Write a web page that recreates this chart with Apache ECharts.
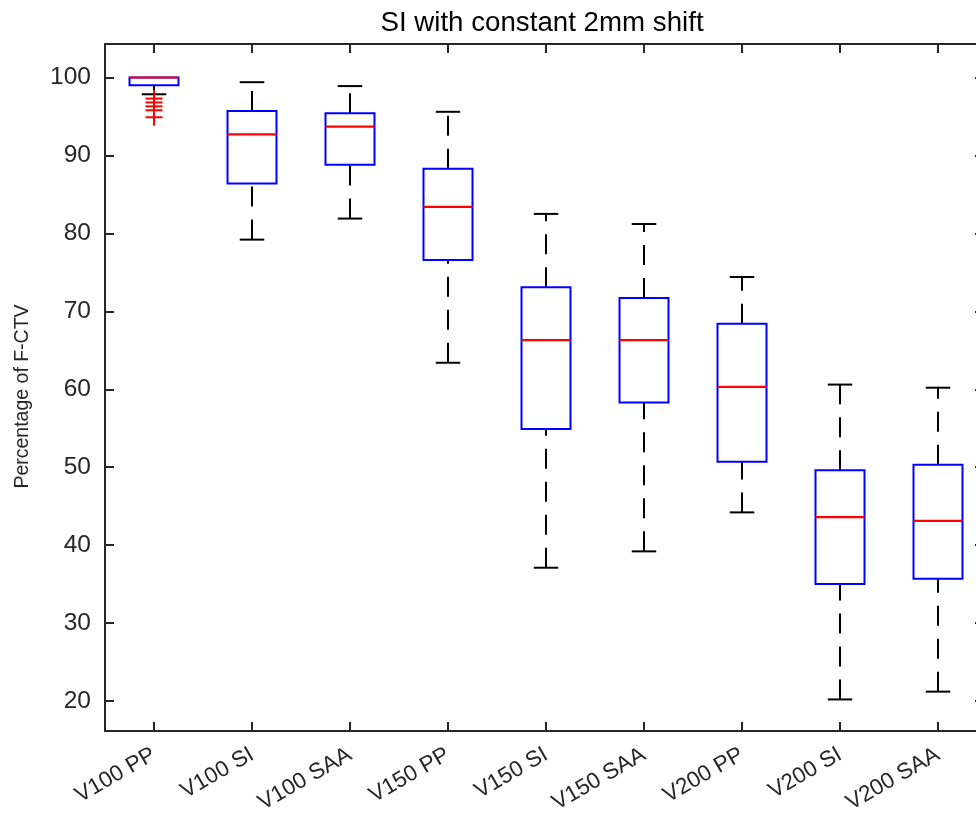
<!DOCTYPE html>
<html><head><meta charset="utf-8">
<script src="https://cdn.jsdelivr.net/npm/echarts@6/dist/echarts.min.js"></script>
<style>html,body{margin:0;padding:0;background:#fff}#c{width:976px;height:825px}</style>
</head><body><div id="c"></div>
<script>
const categories = ['V100 PP','V100 SI','V100 SAA','V150 PP','V150 SI','V150 SAA','V200 PP','V200 SI','V200 SAA'];
const lowerWhisker = [97.85, 79.2, 81.9, 63.4, 37.1, 39.2, 44.2, 20.2, 21.2];
const q1           = [99.0, 86.4, 88.8, 76.6, 54.9, 58.3, 50.7, 35.0, 35.7];
const median       = [100.0, 92.7, 93.7, 83.4, 66.3, 66.3, 60.3, 43.6, 43.1];
const q3           = [100.0, 95.7, 95.4, 88.3, 73.1, 71.7, 68.4, 49.6, 50.3];
const upperWhisker = [100.0, 99.4, 98.9, 95.6, 82.5, 81.2, 74.4, 60.6, 60.2];
const outlierCategory = [0, 0, 0, 0, 0];
const outlierValues   = [97.3, 96.8, 96.3, 95.8, 94.9];
const yTicks = [20, 30, 40, 50, 60, 70, 80, 90, 100];
const titleText = 'SI with constant 2mm shift';
const yName = 'Percentage of F-CTV';

const boxData = categories.map((c, i) => [i, lowerWhisker[i], q1[i], median[i], q3[i], upperWhisker[i]]);
const outlierData = outlierValues.map((v, i) => [outlierCategory[i], v]);

const FONT = 'Liberation Sans, Arial, sans-serif';
const AX = '#262626';

function renderBox(params, api) {
  const i = api.value(0);
  const bw = api.size([1, 0])[0];
  const half = bw * 0.25, capHalf = bw * 0.125;
  const x = api.coord([i, 0])[0];
  const yLW = api.coord([i, api.value(1)])[1];
  const yQ1 = api.coord([i, api.value(2)])[1];
  const yMed = api.coord([i, api.value(3)])[1];
  const yQ3 = api.coord([i, api.value(4)])[1];
  const yUW = api.coord([i, api.value(5)])[1];
  const wStyle = { stroke: '#000', lineWidth: 2, lineDash: [20, 13], fill: null };
  const cStyle = { stroke: '#000', lineWidth: 2, fill: null };
  const children = [];
  if (Math.abs(yLW - yQ1) > 0.5) {
    children.push({ type: 'line', shape: { x1: x, y1: yLW, x2: x, y2: yQ1 }, style: wStyle });
    children.push({ type: 'line', shape: { x1: x - capHalf, y1: yLW, x2: x + capHalf, y2: yLW }, style: cStyle });
  }
  if (Math.abs(yUW - yQ3) > 0.5) {
    children.push({ type: 'line', shape: { x1: x, y1: yQ3, x2: x, y2: yUW }, style: wStyle });
    children.push({ type: 'line', shape: { x1: x - capHalf, y1: yUW, x2: x + capHalf, y2: yUW }, style: cStyle });
  }
  children.push({ type: 'rect', shape: { x: x - half, y: yQ3, width: 2 * half, height: yQ1 - yQ3 },
    style: { stroke: '#0000ff', lineWidth: 2, fill: null } });
  children.push({ type: 'line', shape: { x1: x - half, y1: yMed, x2: x + half, y2: yMed },
    style: { stroke: '#ff0000', lineWidth: 2.2 } });
  return { type: 'group', children };
}

function renderOutlier(params, api) {
  const p = api.coord([api.value(0), api.value(1)]);
  const s = 8.5;
  return { type: 'group', children: [
    { type: 'line', shape: { x1: p[0] - s, y1: p[1], x2: p[0] + s, y2: p[1] }, style: { stroke: '#ff0000', lineWidth: 2 } },
    { type: 'line', shape: { x1: p[0], y1: p[1] - s, x2: p[0], y2: p[1] + s }, style: { stroke: '#ff0000', lineWidth: 2 } }
  ]};
}

const xBase = {
  type: 'category', data: categories, boundaryGap: true,
  axisLine: { show: true, lineStyle: { color: AX, width: 2 } },
  axisTick: { show: true, inside: true, alignWithLabel: true, length: 9, lineStyle: { color: AX, width: 2 } },
  splitLine: { show: false }
};
const yBase = {
  type: 'value', min: 16.15, max: 104.3, minInterval: 10, maxInterval: 10, splitNumber: 9,
  axisLine: { show: true, lineStyle: { color: AX, width: 2 } },
  axisTick: { show: true, inside: true, length: 9, lineStyle: { color: AX, width: 2 } },
  splitLine: { show: false }
};

const option = {
  animation: false,
  backgroundColor: '#ffffff',
  title: { text: titleText, left: 537, top: 4, textAlign: 'center',
    textStyle: { fontFamily: FONT, fontSize: 27.7, fontWeight: 'normal', color: '#000' } },
  grid: { left: 105, top: 44, width: 882, height: 687, containLabel: false, outerBoundsMode: 'none' },
  xAxis: [
    Object.assign({}, xBase, { position: 'bottom',
      axisLabel: { rotate: 30, color: AX, fontSize: 22.5, fontFamily: FONT, margin: 22 } }),
    Object.assign({}, xBase, { position: 'top', axisLabel: { show: false } })
  ],
  yAxis: [
    Object.assign({}, yBase, { position: 'left', name: yName, nameLocation: 'middle', nameGap: 72,
      nameTextStyle: { fontFamily: FONT, fontSize: 19.5, color: AX, padding: [0, 18, 0, 0] },
      axisLabel: { color: AX, fontSize: 24.5, fontFamily: FONT, margin: 14,
        formatter: v => (yTicks.indexOf(Math.round(v * 1000) / 1000) >= 0 ? String(v) : '') } }),
    Object.assign({}, yBase, { position: 'right', axisLabel: { show: false },
      axisTick: { show: true, inside: true, length: 12, lineStyle: { color: AX, width: 2 } } })
  ],
  series: [
    { type: 'custom', name: 'box', xAxisIndex: 0, yAxisIndex: 0, data: boxData, renderItem: renderBox,
      encode: { x: 0, y: [1, 2, 3, 4, 5] }, clip: false, z: 2 },
    { type: 'custom', name: 'outliers', xAxisIndex: 0, yAxisIndex: 0, data: outlierData, renderItem: renderOutlier,
      encode: { x: 0, y: 1 }, clip: false, z: 3 }
  ]
};
const chart = echarts.init(document.getElementById('c'));
chart.setOption(option);
</script></body></html>
